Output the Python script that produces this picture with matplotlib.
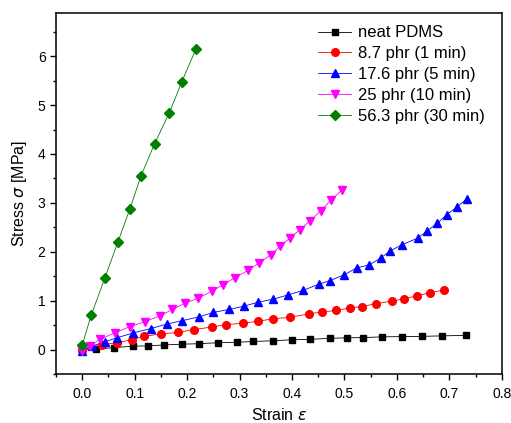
import numpy as np
import matplotlib
matplotlib.use("Agg")
import matplotlib.pyplot as plt
from matplotlib.ticker import MultipleLocator

plt.rcParams['font.family'] = ['Liberation Sans', 'DejaVu Sans']
plt.rcParams['mathtext.fontset'] = 'dejavusans'

# neat PDMS
x_neat = [0, 0.027, 0.061, 0.097, 0.126, 0.156, 0.190, 0.223, 0.258, 0.295, 0.326,
          0.363, 0.400, 0.435, 0.472, 0.504, 0.536, 0.571, 0.610, 0.647, 0.686, 0.731]
y_neat = [0, 0.01, 0.04, 0.07, 0.075, 0.095, 0.11, 0.12, 0.14, 0.15, 0.165,
          0.18, 0.20, 0.21, 0.23, 0.24, 0.245, 0.26, 0.265, 0.27, 0.28, 0.29]

# 8.7 phr (1 min)
x_87 = [0, 0.037, 0.067, 0.094, 0.118, 0.150, 0.183, 0.213, 0.247, 0.275, 0.306, 0.336,
        0.364, 0.397, 0.432, 0.458, 0.484, 0.510, 0.533, 0.561, 0.590, 0.614, 0.638,
        0.663, 0.689]
y_87 = [0, 0.10, 0.14, 0.20, 0.27, 0.32, 0.35, 0.41, 0.46, 0.51, 0.54, 0.58,
        0.63, 0.66, 0.73, 0.77, 0.80, 0.85, 0.88, 0.94, 0.99, 1.04, 1.10,
        1.16, 1.22]

# 17.6 phr (5 min)
x_176 = [0, 0.018, 0.043, 0.066, 0.097, 0.131, 0.161, 0.190, 0.223, 0.250, 0.280,
         0.309, 0.336, 0.364, 0.393, 0.421, 0.452, 0.472, 0.500, 0.523, 0.547, 0.569,
         0.586, 0.609, 0.640, 0.658, 0.677, 0.695, 0.714, 0.733]
y_176 = [-0.02, 0.07, 0.16, 0.24, 0.34, 0.43, 0.52, 0.59, 0.67, 0.76, 0.82,
         0.89, 0.97, 1.03, 1.12, 1.21, 1.34, 1.41, 1.53, 1.67, 1.73, 1.87,
         2.01, 2.14, 2.28, 2.43, 2.58, 2.76, 2.91, 3.08]

# 25 phr (10 min)
x_25 = [0, 0.015, 0.034, 0.062, 0.091, 0.120, 0.148, 0.172, 0.196, 0.221, 0.247, 0.269,
        0.291, 0.316, 0.337, 0.360, 0.377, 0.396, 0.415, 0.434, 0.455, 0.474, 0.496]
y_25 = [-0.03, 0.08, 0.21, 0.34, 0.47, 0.57, 0.69, 0.82, 0.95, 1.05, 1.19, 1.33,
        1.47, 1.62, 1.77, 1.94, 2.11, 2.28, 2.45, 2.63, 2.84, 3.05, 3.27]

# 56.3 phr (30 min)
x_563 = [0, 0.017, 0.043, 0.068, 0.091, 0.112, 0.138, 0.166, 0.190, 0.217]
y_563 = [0.09, 0.70, 1.46, 2.20, 2.88, 3.55, 4.21, 4.84, 5.48, 6.15]

fig = plt.figure(figsize=(5.11, 4.23), dpi=100)
ax = fig.add_axes([0.1096, 0.1158, 0.8724, 0.8532])

lw = 0.6
ax.plot(x_neat, y_neat, '-s', color='black', lw=lw, ms=5, label='neat PDMS')
ax.plot(x_87, y_87, '-o', color='red', lw=lw, ms=5.5, label='8.7 phr (1 min)')
ax.plot(x_176, y_176, '-^', color='blue', lw=lw, ms=6, label='17.6 phr (5 min)')
ax.plot(x_25, y_25, '-v', color='magenta', lw=lw, ms=6, label='25 phr (10 min)')
ax.plot(x_563, y_563, '-D', color='green', lw=lw, ms=4.8, label='56.3 phr (30 min)')

ax.set_xlim(-0.05, 0.8)
ax.set_ylim(-0.5, 6.88)
ax.xaxis.set_major_locator(MultipleLocator(0.1))
ax.xaxis.set_minor_locator(MultipleLocator(0.05))
ax.yaxis.set_major_locator(MultipleLocator(1))
ax.yaxis.set_minor_locator(MultipleLocator(0.5))
ax.tick_params(which='both', direction='out', top=False, right=False, labelsize=10)
ax.tick_params(which='major', length=4, width=1)
ax.tick_params(which='minor', length=2.5, width=1)
ax.tick_params(axis='x', pad=5)
for s in ax.spines.values():
    s.set_linewidth(1.1)

ax.set_xlabel(r'Strain $\varepsilon$', fontsize=11.5, labelpad=5)
ax.set_ylabel(r'Stress $\sigma$ [MPa]', fontsize=11.5, labelpad=6)

ax.legend(loc='upper right', bbox_to_anchor=(0.962, 0.966), frameon=False,
          fontsize=12, handlelength=2.0, labelspacing=0.35, handletextpad=0.4,
          borderpad=0, borderaxespad=0)

fig.savefig('out.png', dpi=100)
